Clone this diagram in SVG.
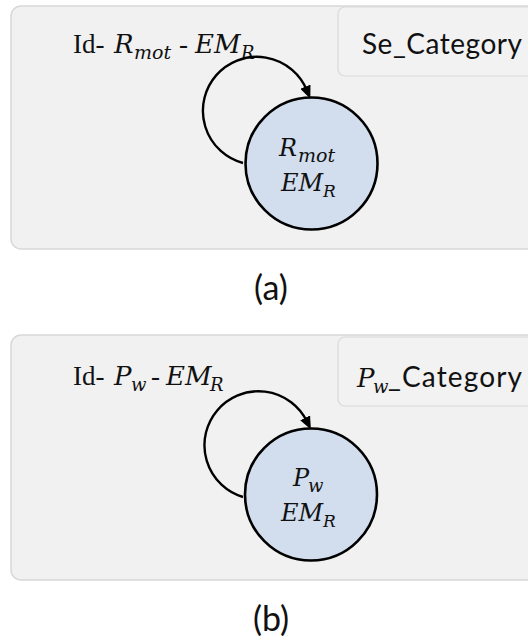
<svg xmlns="http://www.w3.org/2000/svg" width="528" height="641" viewBox="0 0 528 641">
<style>
.panel{fill:#f1f1f1;stroke:#d8d8d8;stroke-width:1.5}
.cat{fill:#f2f2f2;stroke:#d9d9d9;stroke-width:1.2}
.node{fill:#d2deee;stroke:#000;stroke-width:2.6}
.loop{fill:none;stroke:#000;stroke-width:2.4}
.math{font-family:"DejaVu Serif",serif;font-style:italic;fill:#111}
.rm{font-family:"Liberation Serif",serif;fill:#111}
.sans{font-family:Lato,"Open Sans",sans-serif;fill:#111}
</style>
<defs>
<marker id="arr" markerUnits="userSpaceOnUse" viewBox="0 0 13 11" refX="4" refY="5.5" markerWidth="13" markerHeight="11" orient="auto">
<path d="M0,0 L13,5.5 L0,11 z" fill="#000"/>
</marker>
</defs>

<g id="panel-a">
<rect class="panel" x="11" y="6" width="540" height="243" rx="10"/>
<g id="category-a">
<rect class="cat" x="338" y="7" width="210" height="69" rx="7"/>
<text class="sans" x="362" y="54" font-size="28" textLength="160" lengthAdjust="spacing">Se_Category</text>
</g>
<g id="label-a">
<text class="rm" x="73" y="53" font-size="27">Id-</text>
<text class="math" x="114" y="53" font-size="26">R</text>
<text class="math" x="134" y="59" font-size="19">mot</text>
<text class="rm" x="179" y="53" font-size="27">-</text>
<text class="math" x="195" y="53" font-size="26">EM</text>
<text class="math" x="241" y="59" font-size="18">R</text>
</g>
<g id="node-a">
<circle class="node" cx="311.5" cy="163.5" r="66"/>
<text class="math" x="279" y="156" font-size="24">R</text>
<text class="math" x="298" y="162" font-size="19">mot</text>
<text class="math" x="281" y="191" font-size="24">EM</text>
<text class="math" x="323" y="197" font-size="17">R</text>
</g>
<g id="connectors-a">
<path class="loop" d="M243,163 A54,54 0 1 1 306.9,90.4" marker-end="url(#arr)"/>
</g>
<text class="sans" x="271" y="300" font-size="34" text-anchor="middle">(a)</text>
</g>

<g id="panel-b">
<rect class="panel" x="11" y="335" width="540" height="245" rx="10"/>
<g id="category-b">
<rect class="cat" x="338" y="337" width="210" height="69" rx="7"/>
<text class="math" x="357" y="387" font-size="26">P</text>
<text class="math" x="373" y="393" font-size="18">w</text>
<text class="sans" x="388" y="387" font-size="28" textLength="134" lengthAdjust="spacing">_Category</text>
</g>
<g id="label-b">
<text class="rm" x="73" y="385" font-size="27">Id-</text>
<text class="math" x="114" y="385" font-size="26">P</text>
<text class="math" x="131" y="391" font-size="18">w</text>
<text class="rm" x="151" y="385" font-size="27">-</text>
<text class="math" x="166" y="385" font-size="26">EM</text>
<text class="math" x="210" y="391" font-size="18">R</text>
</g>
<g id="node-b">
<circle class="node" cx="311" cy="494.5" r="66"/>
<text class="math" x="293" y="486" font-size="24">P</text>
<text class="math" x="308" y="492" font-size="18">w</text>
<text class="math" x="281" y="521" font-size="24">EM</text>
<text class="math" x="323" y="527" font-size="17">R</text>
</g>
<g id="connectors-b">
<path class="loop" d="M243,497 A54,54 0 1 1 306.9,421.4" marker-end="url(#arr)"/>
</g>
<text class="sans" x="271" y="631" font-size="34" text-anchor="middle">(b)</text>
</g>
</svg>
